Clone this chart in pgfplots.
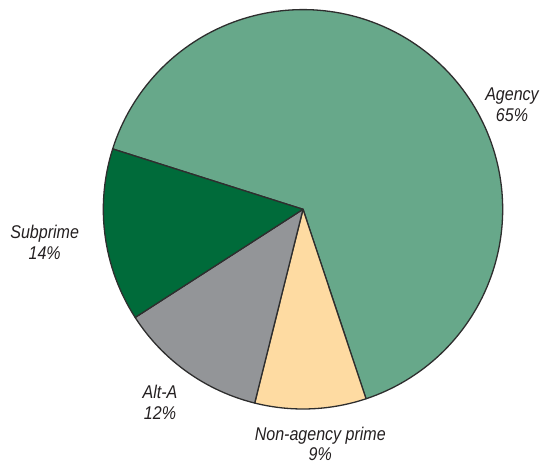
\documentclass[border=0pt]{standalone}
\usepackage{pgfplots}
\pgfplotsset{compat=1.18}
\usepackage{fontspec}
\newfontfamily\labfont{Liberation Sans}[FakeStretch=0.87]
\definecolor{agency}{HTML}{67A88A}
\definecolor{subprime}{HTML}{006B3A}
\definecolor{alta}{HTML}{939598}
\definecolor{nonagency}{HTML}{FEDBA2}
\definecolor{edge}{HTML}{2E2E2E}
\definecolor{txt}{HTML}{231F20}
% shares (per cent), clockwise from the Agency/Subprime boundary
\def\vAgency{65}
\def\vNonAgency{9}
\def\vAltA{12}
\def\vSubprime{14}
\pgfmathsetmacro\aA{162.4}
\pgfmathsetmacro\aB{\aA-\vAgency*3.6}
\pgfmathsetmacro\aC{\aB-\vNonAgency*3.6}
\pgfmathsetmacro\aD{\aC-\vAltA*3.6}
\pgfmathsetmacro\aE{\aD-\vSubprime*3.6}
\def\cx{303}
\def\cy{-209.3}
\def\R{199.7}
\begin{document}
\begin{tikzpicture}
\begin{axis}[
  at={(0,0)}, anchor=south west,
  scale only axis, width=541bp, height=463bp,
  xmin=0, xmax=541, ymin=-463, ymax=0,
  hide axis, clip=false,
  every axis plot/.append style={draw=edge, line width=1.3bp, line join=round},
]
\addplot[fill=agency, domain=\aB:\aA, samples=150, variable=\t]
  ({\cx+\R*cos(\t)}, {\cy+\R*sin(\t)}) -- (axis cs:\cx,\cy) -- cycle;
\addplot[fill=nonagency, domain=\aC:\aB, samples=30, variable=\t]
  ({\cx+\R*cos(\t)}, {\cy+\R*sin(\t)}) -- (axis cs:\cx,\cy) -- cycle;
\addplot[fill=alta, domain=\aD:\aC, samples=30, variable=\t]
  ({\cx+\R*cos(\t)}, {\cy+\R*sin(\t)}) -- (axis cs:\cx,\cy) -- cycle;
\addplot[fill=subprime, domain=\aE:\aD, samples=30, variable=\t]
  ({\cx+\R*cos(\t)}, {\cy+\R*sin(\t)}) -- (axis cs:\cx,\cy) -- cycle;
\begin{scope}[every node/.style={anchor=base, inner sep=0pt, text=txt, font=\labfont\itshape\fontsize{18.5}{21}\selectfont}]
\node at (axis cs:512,-100.7) {Agency};
\node at (axis cs:512,-122) {65\%};
\node at (axis cs:44.7,-238.3) {Subprime};
\node at (axis cs:44.7,-260) {14\%};
\node at (axis cs:160,-399) {Alt-A};
\node at (axis cs:160,-420) {12\%};
\node at (axis cs:320.3,-440.3) {Non-agency prime};
\node at (axis cs:320.3,-460.5) {9\%};
\end{scope}
\end{axis}
\pgfresetboundingbox
\path (0,0) rectangle (541bp,463bp);
\end{tikzpicture}
\end{document}
